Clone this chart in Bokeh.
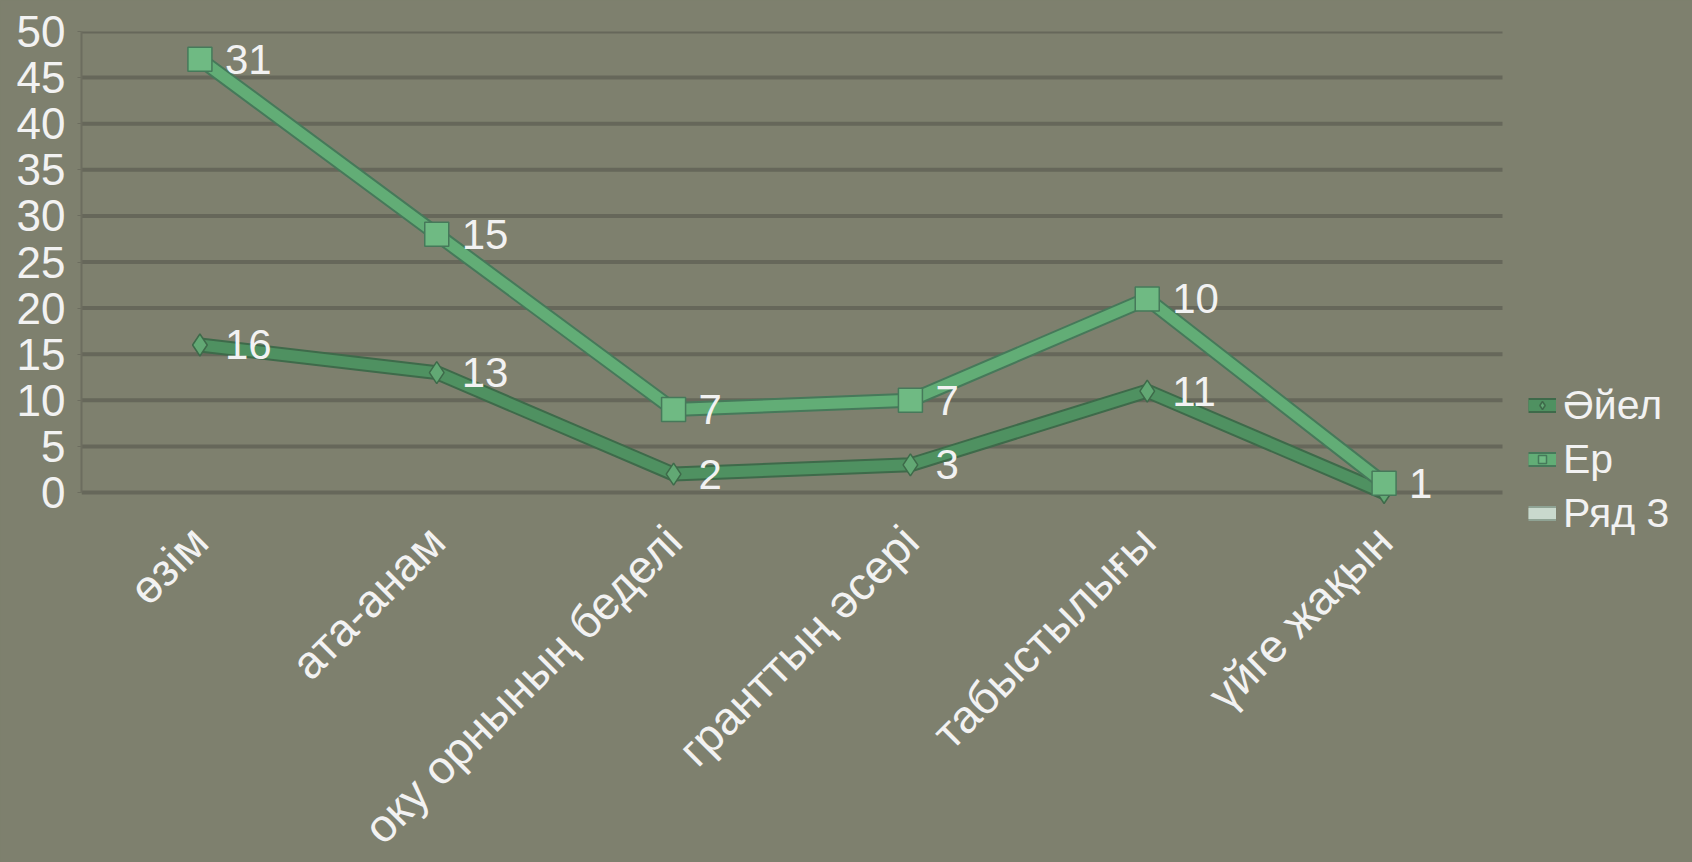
import math
import numpy as np
from bokeh.plotting import figure
from bokeh.models import (ColumnDataSource, Range1d, FixedTicker, LinearAxis,
                          LabelSet, Legend, LegendItem)
from bokeh.core.properties import value
from bokeh.embed import file_html
from bokeh.resources import INLINE

categories = ["өзім", "ата-анам", "оку орнының беделі", "гранттың әсері", "табыстылығы", "үйге жақын"]
ayel = [16, 13, 2, 3, 11, 0]
er = [31, 15, 7, 7, 10, 1]
ryad3 = [None, None, None, None, None, None]
y_ticks = [0, 5, 10, 15, 20, 25, 30, 35, 40, 45, 50]
series_names = ["Әйел", "Ер", "Ряд 3"]

BG = "#7e806e"
TXT = "#f2f2f2"
FONT = "Liberation Sans"

W, H = 1692, 862
LEFT, TOP = 81, 31
PLOT_H_50 = 461          # pixels spanned by 0..50
CAT_W = 1421 / len(categories)

idx = list(range(len(categories)))
# stacked line chart
ayel_arr = np.array(ayel, dtype=float)
er_top = ayel_arr + np.array(er, dtype=float)

src_a = ColumnDataSource(dict(x=idx, y=ayel_arr, lab=[str(v) if v else "" for v in ayel]))
src_e = ColumnDataSource(dict(x=idx, y=er_top, lab=[str(v) if v else "" for v in er]))
src_r = ColumnDataSource(dict(x=idx, y=np.array(ryad3, dtype=float)))

n = len(categories)
px_per_unit = PLOT_H_50 / 50
y_start = -((H - TOP) - PLOT_H_50) / px_per_unit
x_end = -0.5 + (W - LEFT) / CAT_W

p = figure(width=W, height=H, x_range=Range1d(-0.5, x_end),
           y_range=Range1d(y_start, 50), output_backend="svg", toolbar_location=None,
           x_axis_location=None, y_axis_location=None,
           min_border_left=LEFT, min_border_top=TOP, min_border_right=0, min_border_bottom=0)
p.background_fill_color = BG
p.border_fill_color = BG
p.outline_line_color = None
p.grid.grid_line_color = None
p.styles = {"background-color": BG}

yaxis = LinearAxis(ticker=FixedTicker(ticks=y_ticks), bounds=(0, 50))
yaxis.axis_line_color = "#6c6d5f"
yaxis.axis_line_width = 2
yaxis.major_tick_line_color = "#6c6d5f"
yaxis.major_tick_in = 0
yaxis.major_tick_out = 4
yaxis.minor_tick_line_color = None
yaxis.major_label_standoff = 12
yaxis.major_label_text_font = FONT
yaxis.major_label_text_font_size = "44px"
yaxis.major_label_text_color = TXT
p.add_layout(yaxis, "left")

xaxis = LinearAxis(ticker=FixedTicker(ticks=idx), fixed_location=0,
                   major_label_overrides={i: c for i, c in zip(idx, categories)})
xaxis.axis_line_color = None
xaxis.major_tick_line_color = None
xaxis.minor_tick_line_color = None
xaxis.major_tick_out = 0
xaxis.major_tick_in = 0
xaxis.major_label_orientation = math.pi / 4
xaxis.major_label_standoff = 41
xaxis.major_label_text_font = FONT
xaxis.major_label_text_font_size = "46px"
xaxis.major_label_text_color = TXT
p.add_layout(xaxis, "below")

# horizontal gridlines across the category area
p.segment(x0=-0.5, x1=n - 0.5, y0=y_ticks, y1=y_ticks, line_color="#66675a", line_width=4)

# Әйел
a_sh = p.line("x", "y", source=src_a, line_width=15, line_color="#3e6a4a", line_join="round")
a_ln = p.line("x", "y", source=src_a, line_width=11, line_color="#4f9161", line_join="round")
a_mk = p.scatter("x", "y", source=src_a, marker="diamond", size=22, fill_color="#62a874",
                 line_color="#3e6a4a", line_width=1.5)
# Ер
e_sh = p.line("x", "y", source=src_e, line_width=15, line_color="#46795a", line_join="round")
e_ln = p.line("x", "y", source=src_e, line_width=11, line_color="#62ad76", line_join="round")
e_mk = p.scatter("x", "y", source=src_e, marker="square", size=24, fill_color="#6fba83",
                 line_color="#46795a", line_width=1.5)
# Ряд 3 (no values)
r_sh = p.line("x", "y", source=src_r, line_width=15, line_color="#8fa394")
r_ln = p.line("x", "y", source=src_r, line_width=11, line_color="#c9d9cd")

for src in (src_a, src_e):
    p.add_layout(LabelSet(x="x", y="y", text="lab", source=src, x_offset=25, y_offset=0,
                          text_baseline="middle", text_align="left", text_font=value(FONT),
                          text_font_size=value("42px"), text_color=TXT))

legend = Legend(items=[LegendItem(label=series_names[0], renderers=[a_sh, a_ln, a_mk]),
                       LegendItem(label=series_names[1], renderers=[e_sh, e_ln, e_mk]),
                       LegendItem(label=series_names[2], renderers=[r_sh, r_ln])],
                location=(1447, 325), background_fill_alpha=0, border_line_color=None,
                label_text_font=FONT, label_text_font_size="41px", label_text_color=TXT,
                glyph_width=28, glyph_height=20, label_height=48, spacing=6, padding=10,
                label_standoff=7, margin=0)
p.add_layout(legend, "center")

open("out.html", "w").write(file_html(p, INLINE))
